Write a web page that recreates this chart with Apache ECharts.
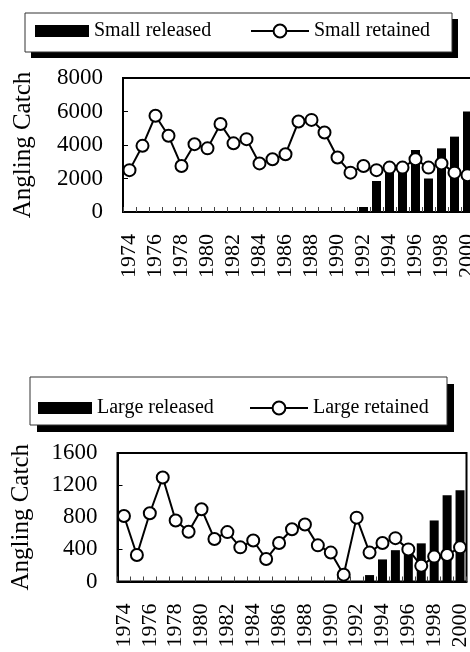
<!DOCTYPE html>
<html>
<head>
<meta charset="utf-8">
<script src="https://cdn.jsdelivr.net/npm/echarts@6/dist/echarts.min.js"></script>
<style>html,body{margin:0;padding:0;background:#fff}#c{width:470px;height:652px}</style>
</head>
<body>
<div id="c"></div>
<script>
var years = ['1974','1975','1976','1977','1978','1979','1980','1981','1982','1983','1984','1985','1986','1987','1988','1989','1990','1991','1992','1993','1994','1995','1996','1997','1998','1999','2000'];
var smallReleased = [null,null,null,null,null,null,null,null,null,null,null,null,null,null,null,null,null,null,300,1850,2350,2450,3700,2000,3800,4500,6000];
var smallRetained = [2500,3950,5750,4550,2750,4050,3800,5250,4100,4350,2900,3150,3450,5400,5500,4750,3250,2350,2750,2500,2650,2650,3150,2650,2900,2350,2200];
var largeReleased = [null,null,null,null,null,null,null,null,null,null,null,null,null,null,null,null,null,null,null,80,275,390,340,475,760,1075,1135];
var largeRetained = [815,330,850,1295,760,620,900,530,615,425,510,280,480,650,710,450,360,85,795,360,480,540,400,195,310,330,425];
var smallTicks = {min:0, max:8000, interval:2000};
var largeTicks = {min:0, max:1600, interval:400};

var FF = 'Liberation Serif';
var chart = echarts.init(document.getElementById('c'), null, {renderer:'canvas'});

function xAxis(g){
  return {type:'category', gridIndex:g, data:years, boundaryGap:true,
    axisLine:{show:true, lineStyle:{color:'#000', width:2}},
    axisTick:{show:true, inside:true, length:5, interval:0, lineStyle:{color:'#444', width:1}},
    axisLabel:{rotate:90, interval:1, fontSize:22, fontFamily:FF, color:'#000', margin:22, hideOverlap:false},
    splitLine:{show:false}};
}
function yAxis(g, t, gap){
  return {type:'value', gridIndex:g, min:t.min, max:t.max, interval:t.interval,
    name:'Angling Catch', nameLocation:'middle', nameGap:gap, nameRotate:90,
    nameTextStyle:{fontSize:25, fontFamily:FF, color:'#000'},
    axisLine:{show:true, lineStyle:{color:'#000', width:2}},
    axisTick:{show:true, inside:true, length:5, lineStyle:{color:'#000', width:1}},
    axisLabel:{fontSize:23, fontFamily:FF, color:'#000', margin:20, formatter:function(v){return String(v);}},
    splitLine:{show:false}};
}
function barLegend(name, left, top){
  return {data:[name], left:left, top:top, padding:0, icon:'rect', itemWidth:54, itemHeight:12,
    itemStyle:{color:'#000'}, textStyle:{fontSize:20, fontFamily:FF, color:'#000'}, selectedMode:false};
}
function lineLegend(name, left, top){
  return {data:[name], left:left, top:top, padding:0, itemWidth:58, itemHeight:16,
    itemStyle:{color:'#fff', borderColor:'#000', borderWidth:2},
    lineStyle:{color:'#000', width:2},
    textStyle:{fontSize:20, fontFamily:FF, color:'#000'}, selectedMode:false};
}
function barSeries(name, data, xi){
  return {type:'bar', name:name, data:data, xAxisIndex:xi, yAxisIndex:xi, barWidth:9,
    itemStyle:{color:'#000'}, z:2};
}
function lineSeries(name, data, xi){
  return {type:'line', name:name, data:data, xAxisIndex:xi, yAxisIndex:xi,
    symbol:'circle', symbolSize:12, showAllSymbol:true,
    itemStyle:{color:'#fff', borderColor:'#000', borderWidth:2},
    lineStyle:{color:'#000', width:2}, z:3};
}

chart.setOption({
  animation:false,
  backgroundColor:'#fff',
  graphic:[
    {type:'rect', shape:{x:31, y:19, width:427, height:39}, style:{fill:'#000'}, z:-10},
    {type:'rect', shape:{x:25, y:13, width:427, height:39}, style:{fill:'#fff', stroke:'#333', lineWidth:1}, z:-9},
    {type:'rect', shape:{x:37, y:384, width:417, height:48}, style:{fill:'#000'}, z:-10},
    {type:'rect', shape:{x:30, y:377, width:417, height:48}, style:{fill:'#fff', stroke:'#333', lineWidth:1}, z:-9}
  ],
  legend:[
    barLegend('Small released', 35, 21),
    lineLegend('Small retained', 250, 21),
    barLegend('Large released', 38, 398),
    lineLegend('Large retained', 249, 398)
  ],
  grid:[
    {left:123, top:78, width:351, height:134, show:true, borderColor:'#000', borderWidth:2, backgroundColor:'transparent', containLabel:false, outerBoundsMode:'none'},
    {left:117.5, top:453, width:349, height:128.5, show:true, borderColor:'#000', borderWidth:2, backgroundColor:'transparent', containLabel:false, outerBoundsMode:'none'}
  ],
  xAxis:[xAxis(0), xAxis(1)],
  yAxis:[yAxis(0, smallTicks, 87), yAxis(1, largeTicks, 84)],
  series:[
    barSeries('Small released', smallReleased, 0),
    lineSeries('Small retained', smallRetained, 0),
    barSeries('Large released', largeReleased, 1),
    lineSeries('Large retained', largeRetained, 1)
  ]
});
</script>
</body>
</html>
